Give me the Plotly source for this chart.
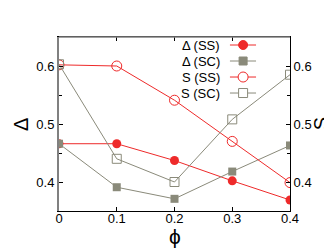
import plotly.graph_objects as go

phi = [0, 0.1, 0.2, 0.3, 0.4]
delta_ss = [0.466, 0.466, 0.437, 0.402, 0.369]
delta_sc = [0.466, 0.391, 0.371, 0.418, 0.463]
s_ss = [0.602, 0.600, 0.541, 0.470, 0.399]
s_sc = [0.603, 0.440, 0.400, 0.508, 0.585]
names = ["Δ (SS)", "Δ (SC)", "S (SS)", "S (SC)"]

RED = "#ee2a2a"
GREY = "#8a8a7a"

fig = go.Figure()
fig.add_trace(go.Scatter(x=phi, y=delta_ss, mode="lines+markers", name=names[0],
                         line=dict(color=RED, width=1),
                         marker=dict(symbol="circle", size=9, color=RED)))
fig.add_trace(go.Scatter(x=phi, y=delta_sc, mode="lines+markers", name=names[1],
                         line=dict(color=GREY, width=1),
                         marker=dict(symbol="square", size=8, color=GREY)))
fig.add_trace(go.Scatter(x=phi, y=s_ss, mode="lines+markers", name=names[2], yaxis="y2",
                         line=dict(color=RED, width=1),
                         marker=dict(symbol="circle-open", size=10, color=RED, line=dict(width=1))))
fig.add_trace(go.Scatter(x=phi, y=s_sc, mode="lines+markers", name=names[3], yaxis="y2",
                         line=dict(color=GREY, width=1),
                         marker=dict(symbol="square-open", size=9, color=GREY, line=dict(width=1))))

font = dict(family="Liberation Sans, Arial, sans-serif", size=13, color="black")

fig.update_layout(
    width=332, height=249,
    margin=dict(l=51, r=50, t=29, b=46),
    paper_bgcolor="white", plot_bgcolor="white",
    font=font,
    showlegend=False,
    xaxis=dict(range=[0, 0.4], tickvals=phi, ticktext=["0", "0.1", "0.2", "0.3", "0.4"],
               ticks="inside", ticklen=4, tickcolor="black", showgrid=False, zeroline=False,
               showline=True, linecolor="black", linewidth=1, mirror="ticks",
               ticklabelstandoff=-5),
    yaxis=dict(range=[0.35, 0.65], tickvals=[0.4, 0.5, 0.6], ticktext=["0.4", "0.5", "0.6"],
               ticks="inside", ticklen=4, tickcolor="black", showgrid=False, zeroline=False,
               showline=True, linecolor="#808080", linewidth=2,
               minor=dict(tickvals=[0.45, 0.55], ticks="inside", ticklen=3, tickcolor="black")),
    yaxis2=dict(range=[0.35, 0.65], overlaying="y", side="right",
                tickvals=[0.4, 0.5, 0.6], ticktext=["0.4", "0.5", "0.6"],
                ticks="inside", ticklen=4, tickcolor="black", showgrid=False, zeroline=False,
                showline=True, linecolor="black", linewidth=1,
                minor=dict(tickvals=[0.45, 0.55], ticks="inside", ticklen=3, tickcolor="black")),
)

shapes = [dict(type="line", xref="paper", yref="paper", x0=0, x1=1, y0=1, y1=1,
               line=dict(color="#808080", width=1.5), layer="above")]

# manual legend (symbol to the right of text)
row_y = [0.954, 0.862, 0.770, 0.678]
styles = [
    (RED, "circle", True, 9),
    (GREY, "rect", True, 8),
    (RED, "circle", False, 10),
    (GREY, "rect", False, 9),
]
lx0, lx1, mx = 0.740, 0.853, 0.797
for (col, kind, filled, sz), yy, n in zip(styles, row_y, names):
    shapes.append(dict(type="line", xref="paper", yref="paper", x0=lx0, x1=lx1, y0=yy, y1=yy,
                       line=dict(color=col, width=1), layer="above"))
    h = sz / 2
    shapes.append(dict(type=kind, xref="paper", yref="paper", xsizemode="pixel", ysizemode="pixel",
                       xanchor=mx, yanchor=yy, x0=-h, x1=h, y0=-h, y1=h,
                       line=dict(color=col, width=1),
                       fillcolor=col if filled else "white", layer="above"))
    fig.add_annotation(text=n, xref="paper", yref="paper", x=0.706, y=yy,
                       xanchor="right", yanchor="middle", showarrow=False,
                       font=dict(size=13, color="black"))

fig.update_layout(shapes=shapes)

# axis titles
fig.add_annotation(text="Δ", xref="paper", yref="paper", x=-0.165, y=0.5, textangle=-90,
                   showarrow=False, font=dict(size=20, color="black"), xanchor="center", yanchor="middle")
fig.add_annotation(text="S", xref="paper", yref="paper", x=1.135, y=0.5, textangle=-90,
                   showarrow=False, font=dict(size=20, color="black"), xanchor="center", yanchor="middle")
fig.add_annotation(text="ϕ", xref="paper", yref="paper", x=0.5, y=-0.145,
                   showarrow=False, font=dict(size=21, color="black"), xanchor="center", yanchor="middle")

fig.write_html("out.html")
